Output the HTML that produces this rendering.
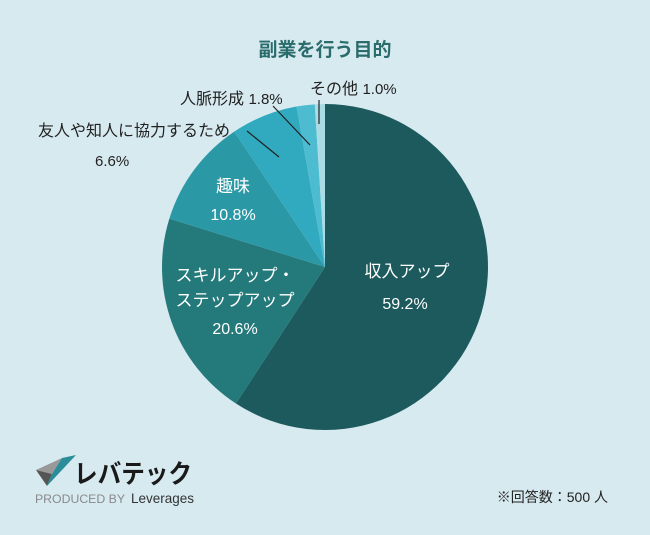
<!DOCTYPE html>
<html><head><meta charset="utf-8"><style>
body{margin:0;width:650px;height:535px;background:#d6eaf0;overflow:hidden;font-family:"Liberation Sans","Noto Sans CJK JP",sans-serif}
svg{display:block}
</style></head><body>
<svg width="650" height="535">
<text x="325" y="56" text-anchor="middle" font-size="19" font-weight="bold" fill="#2a6b6c">副業を行う目的</text>
<g id="slices"></g>
<g id="labels" font-size="16" fill="#222">
<text x="180" y="104">人脈形成 <tspan font-size="15">1.8%</tspan></text>
<text x="310" y="94">その他 <tspan font-size="15">1.0%</tspan></text>
<text x="38" y="136">友人や知人に協力するため</text>
<text x="95" y="166" font-size="15">6.6%</text>
<line x1="319" y1="100" x2="319" y2="124" stroke="#222" stroke-width="1.2"/>
<line x1="273" y1="106" x2="310" y2="145" stroke="#222" stroke-width="1.2"/>
<line x1="247" y1="131" x2="279" y2="157" stroke="#222" stroke-width="1.2"/>
</g>
<g fill="#fff" font-size="17" text-anchor="middle">
<text x="233" y="192">趣味</text>
<text x="233" y="220" font-size="16">10.8%</text>
<text x="235" y="281">スキルアップ・</text>
<text x="235" y="306">ステップアップ</text>
<text x="235" y="334" font-size="16">20.6%</text>
<text x="407" y="277">収入アップ</text>
<text x="405" y="309" font-size="16">59.2%</text>
</g>
<g>
<polygon points="36,470 62,458 52,474" fill="#999"/>
<polygon points="36,470 52,474 47,486" fill="#555"/>
<polygon points="47,486 52,474 62,458 76,455" fill="#2a8d99"/>
<text x="74" y="483" font-size="26" font-weight="bold" fill="#1a1a1a" textLength="118" lengthAdjust="spacingAndGlyphs">レバテック</text>
<text x="35" y="503" font-size="12" fill="#8a8a8a" textLength="90" lengthAdjust="spacingAndGlyphs">PRODUCED BY</text>
<text x="131" y="503" font-size="14" fill="#333" textLength="63" lengthAdjust="spacingAndGlyphs">Leverages</text>
</g>
<text x="608" y="502" text-anchor="end" font-size="14" fill="#222">※回答数：500 人</text>
</svg>
<script>
const categories=["収入アップ","スキルアップ・ステップアップ","趣味","友人や知人に協力するため","人脈形成","その他"];
const values=[59.2,20.6,10.8,6.6,1.8,1.0];
const colors=["#1c5a5d","#24797b","#2b98a5","#31aac0","#4dbbd0","#a9dce4"];
const cx=325,cy=267,r=163;
const g=document.getElementById('slices');
const total=values.reduce((a,b)=>a+b,0);
let a0=0;
values.forEach((v,i)=>{
 const a1=a0+v/total*2*Math.PI;
 const p=(a)=>[cx+r*Math.sin(a),cy-r*Math.cos(a)];
 const [x0,y0]=p(a0),[x1,y1]=p(a1);
 const path=document.createElementNS('http://www.w3.org/2000/svg','path');
 path.setAttribute('d',`M${cx},${cy}L${x0},${y0}A${r},${r} 0 ${a1-a0>Math.PI?1:0} 1 ${x1},${y1}Z`);
 path.setAttribute('fill',colors[i]);
 
 
 g.appendChild(path);
 a0=a1;
});
</script>
</body></html>
